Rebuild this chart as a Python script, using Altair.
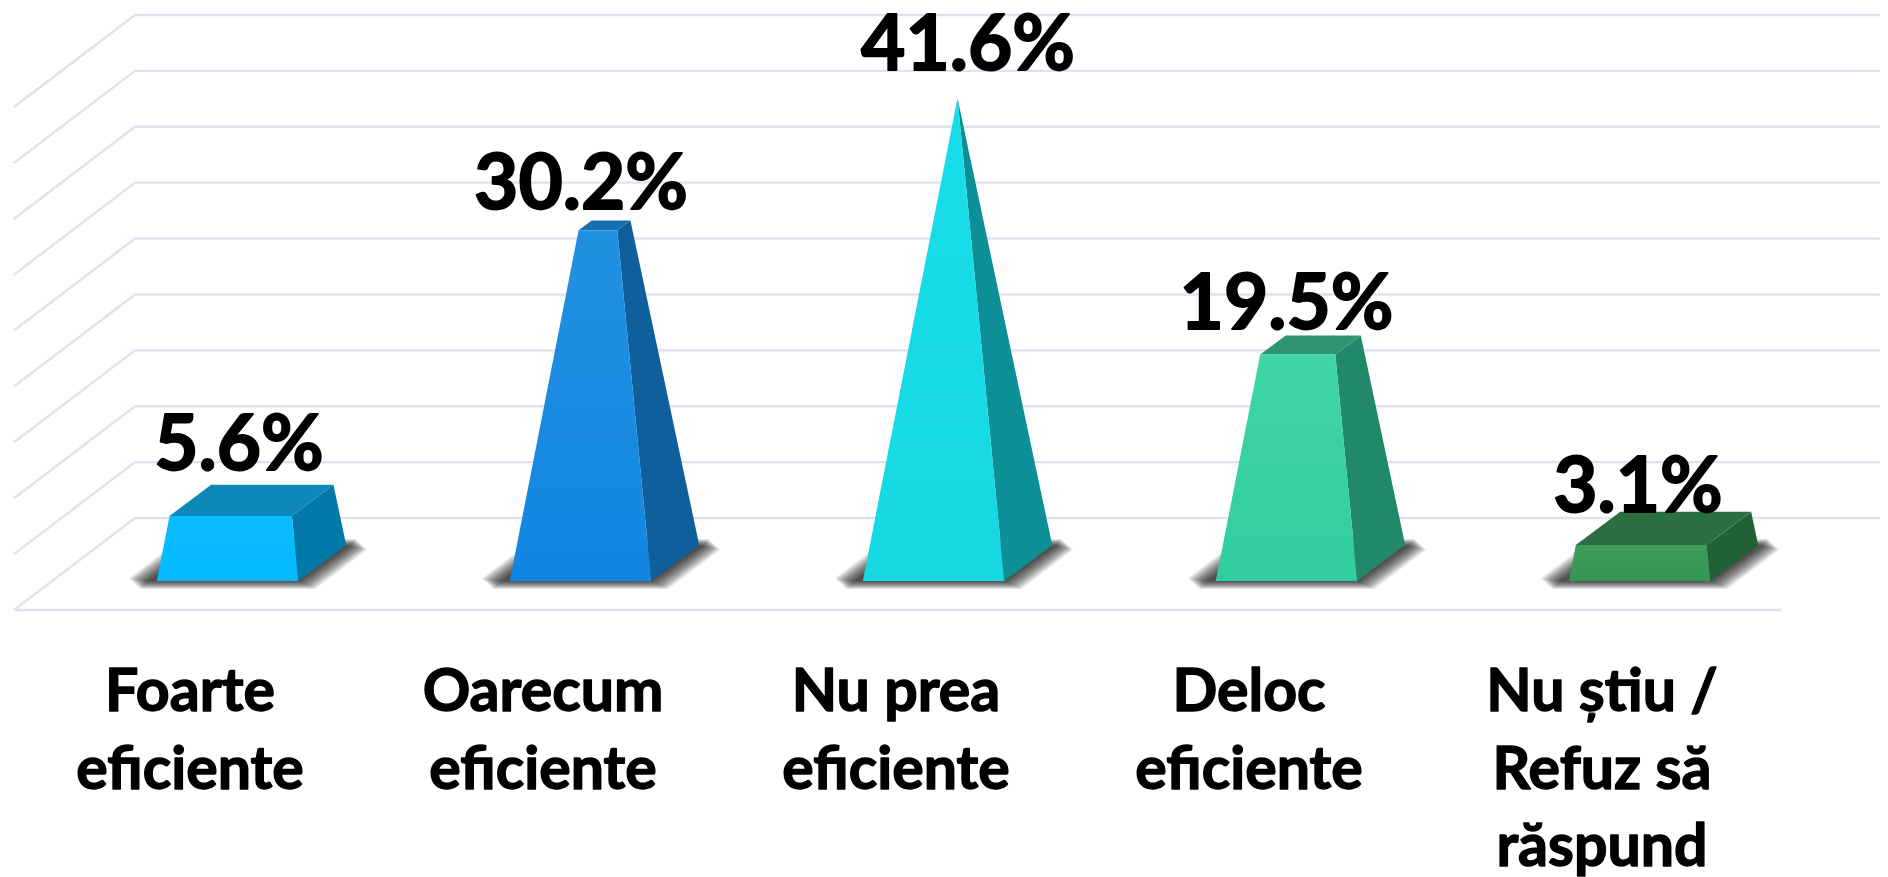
import altair as alt
import pandas as pd

# ---- data ----
categories = [["Foarte", "eficiente"], ["Oarecum", "eficiente"], ["Nu prea", "eficiente"],
              ["Deloc", "eficiente"], ["Nu știu /", "Refuz să", "răspund"]]
values = [5.6, 30.2, 41.6, 19.5, 3.1]
value_labels = ["5.6%", "30.2%", "41.6%", "19.5%", "3.1%"]
grid_ticks = [0, 5, 10, 15, 20, 25, 30, 35, 40, 45]

# ---- colours: (front top, front bottom, top face, side face) ----
palette = [
    ("#0BBBFF", "#04BAFF", "#0D88B8", "#0279A8"),
    ("#2290E0", "#1186E2", "#186FAE", "#0F5F9C"),
    ("#19DDEA", "#15D8E2", "#128F98", "#0C8F96"),
    ("#40D4A6", "#30CDA0", "#2E9474", "#21886A"),
    ("#3C9C58", "#359552", "#2B6E42", "#226035"),
]

# ---- layout ----
PX_PER_CAT, PX_PER_PCT = 353.0, 11.178
X0, Y0 = 227.5, 518.0
def cx(px): return (px - X0) / PX_PER_CAT
def cy(py): return (Y0 - py) / PX_PER_PCT
def dcx(d): return d / PX_PER_CAT
def dcy(d): return -d / PX_PER_PCT

x_scale = alt.Scale(domain=[cx(8), cx(1880)], nice=False, zero=False)
y_scale = alt.Scale(domain=[cy(877), cy(8)], nice=False, zero=False)
X = lambda f="x": alt.X(f"{f}:Q", scale=x_scale, axis=None)
Y = lambda f="y": alt.Y(f"{f}:Q", scale=y_scale, axis=None)

def polygon_rows(points, pid=0):
    """convex polygon -> rows for an area mark (x, upper, lower)"""
    xs = sorted({p[0] for p in points})
    n = len(points)
    rows = []
    for x in xs:
        ys = []
        for i in range(n):
            a, b = points[i], points[(i + 1) % n]
            lo, hi = min(a[0], b[0]), max(a[0], b[0])
            if lo <= x <= hi:
                if a[0] == b[0]:
                    ys += [a[1], b[1]]
                else:
                    ys.append(a[1] + (b[1] - a[1]) * (x - a[0]) / (b[0] - a[0]))
        rows.append({"x": x, "y": max(ys), "y2": min(ys), "id": pid})
    return rows

def area(points, fill, **kw):
    return alt.Chart(pd.DataFrame(polygon_rows(points))).mark_area(
        orient="vertical", color=fill, **kw
    ).encode(x=X(), y=Y(), y2=alt.Y2("y2:Q"))

layers = []

# ---- walls and floor ----
grid_rows = []
for g in grid_ticks:
    for k, (x, y) in enumerate([(cx(14), g + dcy(92)), (cx(135), g), (cx(1880), g)]):
        grid_rows.append({"x": x, "y": y, "g": g, "k": k})
for k, x in enumerate([cx(14), cx(1781)]):
    grid_rows.append({"x": x, "y": dcy(92), "g": -1, "k": k})
layers.append(alt.Chart(pd.DataFrame(grid_rows)).mark_line(color="#DEE1EE", strokeWidth=2.4).encode(
    x=X(), y=Y(), detail="g:N", order="k:Q"))

# ---- soft shadows: nested parallelograms, the outer ones with clipped tips ----
front, back, half, dx_depth = dcy(63), dcy(27), dcx(70.7), dcx(48)
peak = max(values)
shadow_rows = []
steps = 15
for i in range(len(values)):
    for s in range(steps):
        f = s / (steps - 1)
        xl = i + dcx(-113 + 34 * f)
        yb = dcy(71 - 8 * f)
        yt = dcy(21 + 7 * f)
        sk = dcx(66 - 16 * f)
        xr = i + dcx(88 - 16 * f)
        cut_x = dcx(26 * (1 - f))
        slant = (yt - yb) / sk
        rise = cut_x * 0.55
        shadow_rows += polygon_rows([
            (xl + cut_x, yb), (xr, yb),
            (xr + sk - rise, yt - rise * slant), (xr + sk - cut_x, yt),
            (xl + sk, yt),
            (xl + rise, yb + rise * slant),
        ], f"{i}-{s}")
layers.append(alt.Chart(pd.DataFrame(shadow_rows)).mark_area(
    orient="vertical", color="#000000", opacity=0.07).encode(
    x=X(), y=Y(), y2=alt.Y2("y2:Q"), detail="id:N"))

# ---- truncated pyramids ----
for i, v in enumerate(values):
    c_front_top, c_front_bot, c_top, c_side = palette[i]
    apex = (i + dx_depth / 2, (front + back) / 2 + peak)
    t = v / peak
    def cut(p):
        return (p[0] + t * (apex[0] - p[0]), p[1] + t * (apex[1] - p[1]))
    FL, FR = (i - half, front), (i + half, front)
    BL, BR = (i - half + dx_depth, back), (i + half + dx_depth, back)
    fl, fr, bl, br = cut(FL), cut(FR), cut(BL), cut(BR)
    grad = alt.Gradient(gradient="linear", x1=0, x2=0, y1=0, y2=1, stops=[
        alt.GradientStop(color=c_front_top, offset=0), alt.GradientStop(color=c_front_bot, offset=1)])
    layers.append(area([FR, BR, br, fr], c_side))
    if t < 1:
        layers.append(area([fl, fr, br, bl], c_top))
    layers.append(area([FL, FR, fr, fl], grad))

# ---- value labels ----
label_dx = [11.5, 0.5, 34.5, 0, -1.5]
label_dy = [-15, -11, -28, -6, 0]
for i, v in enumerate(values):
    top_y = back + (v / peak) * ((front + back) / 2 + peak - back)
    df = pd.DataFrame({"x": [i], "y": [top_y], "t": [value_labels[i]]})
    layers.append(alt.Chart(df).mark_text(
        font="Lato", fontWeight="bold", fontSize=76.5, color="#000000",
        stroke="#000000", strokeWidth=1.8, strokeJoin="round",
        align="center", baseline="alphabetic", dx=label_dx[i], dy=label_dy[i],
    ).encode(x=X(), y=Y(), text="t:N"))

# ---- category labels ----
cat_rows = []
for i, lines in enumerate(categories):
    for j, line in enumerate(lines):
        cat_rows.append({"x": i + dcx(-37.5), "y": dcy(193 + 77.5 * j), "t": line})
layers.append(alt.Chart(pd.DataFrame(cat_rows)).mark_text(
    font="Lato", fontWeight="bold", fontSize=59, color="#000000",
    stroke="#000000", strokeWidth=1.4, strokeJoin="round",
    align="center", baseline="alphabetic").encode(x=X(), y=Y(), text="t:N"))

chart = alt.layer(*layers).properties(
    width=1872, height=869, padding=0, autosize=alt.AutoSizeParams(type="none"),
    background="#FFFFFF",
).configure_view(stroke=None)

chart.save("out.html", embed_options={"renderer": "svg", "actions": False})
